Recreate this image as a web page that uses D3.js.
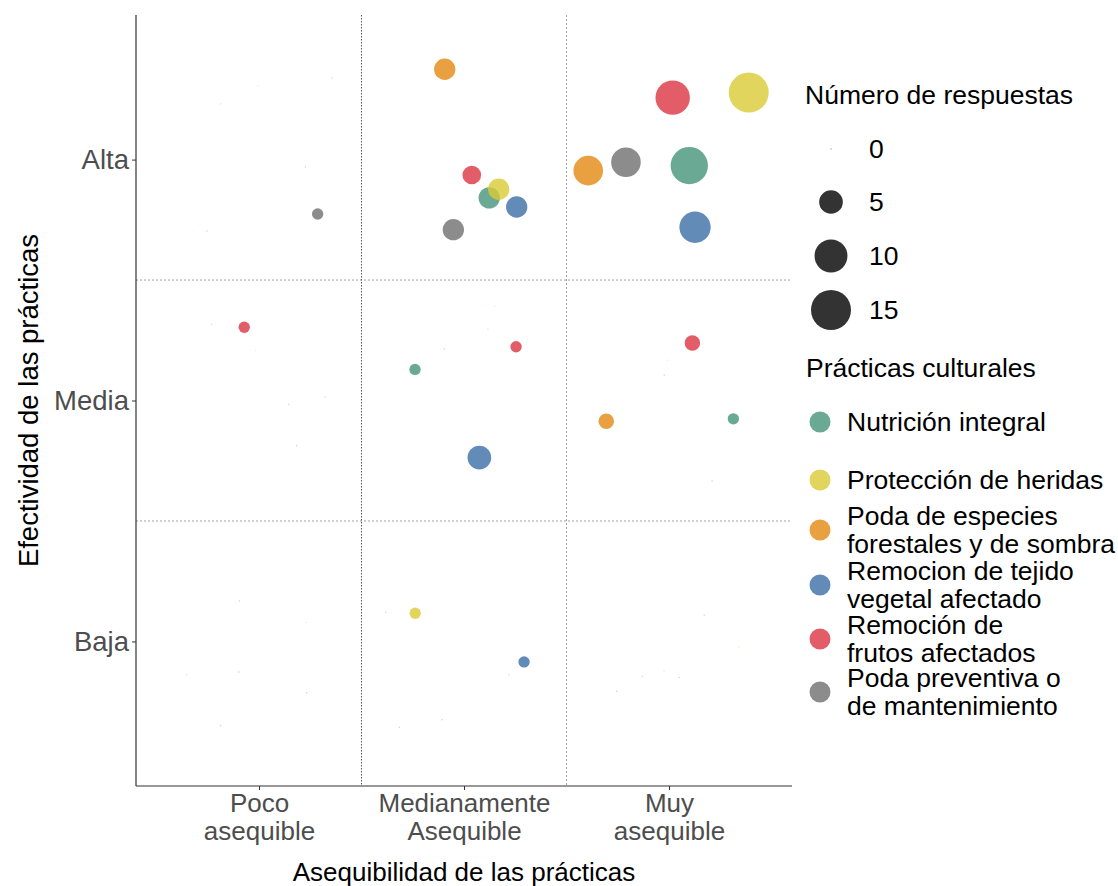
<!DOCTYPE html>
<html>
<head>
<meta charset="utf-8">
<script src="https://cdn.jsdelivr.net/npm/d3@7"></script>
<style>
  html, body { margin: 0; padding: 0; background: #fff; }
  svg { display: block; font-family: "Liberation Sans", Arial, sans-serif; }
</style>
</head>
<body>
<svg id="chart" width="1118" height="886"></svg>
<script>
// ---------- DATA ----------
const practices = [
  "Nutrición integral",
  "Protección de heridas",
  "Poda de especies forestales y de sombra",
  "Remocion de tejido vegetal afectado",
  "Remoción de frutos afectados",
  "Poda preventiva o de mantenimiento"
];
const practiceLegendLines = [
  ["Nutrición integral"],
  ["Protección de heridas"],
  ["Poda de especies", "forestales y de sombra"],
  ["Remocion de tejido", "vegetal afectado"],
  ["Remoción de", "frutos afectados"],
  ["Poda preventiva o", "de mantenimiento"]
];
const practiceColors = ["#459579", "#dbca36", "#e28810", "#3b6ea6", "#dc3442", "#6f6f6f"];
const asequibilidadLabels = [["Poco", "asequible"], ["Medianamente", "Asequible"], ["Muy", "asequible"]];
const efectividadLabels = ["Baja", "Media", "Alta"];
const sizeBreaks = [0, 5, 10, 15];

// [practice index, asequibilidad (1-3), efectividad (1-3), número de respuestas, jitter x, jitter y]
const respuestas = [
  [5,1,3,1,0.286,-0.226],[0,1,3,0,0.355,0.339],[1,1,3,0,-0.005,0.305],[2,1,3,0,-0.187,0.231],[3,1,3,0,0.226,-0.031],[4,1,3,0,-0.254,-0.296],
  [0,2,3,4,0.123,-0.159],[1,2,3,4,0.169,-0.123],[2,2,3,4,-0.094,0.375],[3,2,3,4,0.257,-0.197],[4,2,3,3,0.038,-0.064],[5,2,3,4,-0.052,-0.291],
  [0,3,3,13,0.099,-0.025],[1,3,3,15,0.389,0.278],[2,3,3,8,-0.394,-0.046],[3,3,3,9,0.127,-0.281],[4,3,3,11,0.018,0.257],[5,3,3,8,-0.210,-0.011],
  [4,1,2,1,-0.072,0.304],[0,1,2,0,-0.231,0.316],[1,1,2,0,-0.016,0.208],[2,1,2,0,0.323,0.015],[3,1,2,0,0.145,-0.016],[5,1,2,0,0.184,-0.188],
  [0,2,2,1,-0.239,0.129],[4,2,2,1,0.254,0.223],[3,2,2,5,0.075,-0.237],[1,2,2,0,0.150,0.393],[2,2,2,0,0.117,0.295],[5,2,2,0,-0.096,0.214],
  [4,3,2,2,0.114,0.239],[2,3,2,2,-0.306,-0.086],[0,3,2,1,0.314,-0.076],[1,3,2,0,-0.008,0.167],[3,3,2,0,-0.023,0.106],[5,3,2,0,0.210,-0.334],
  [0,1,1,0,-0.096,0.168],[1,1,1,0,0.231,0.079],[2,1,1,0,-0.353,-0.138],[3,1,1,0,-0.098,-0.127],[4,1,1,0,0.233,-0.213],[5,1,1,0,-0.187,-0.350],
  [1,2,1,1,-0.238,0.117],[3,2,1,1,0.293,-0.085],[0,2,1,0,-0.382,0.121],[2,2,1,0,0.218,-0.138],[4,2,1,0,-0.107,-0.325],[5,2,1,0,-0.316,-0.356],
  [0,3,1,0,0.172,0.110],[1,3,1,0,0.341,-0.023],[2,3,1,0,-0.024,-0.122],[3,3,1,0,-0.130,-0.145],[4,3,1,0,0.050,-0.149],[5,3,1,0,-0.255,-0.207]
];

// ---------- LAYOUT ----------
const svg = d3.select("#chart");
const panel = { left: 136, right: 792, top: 15, bottom: 786 };

const x = d3.scaleLinear().domain([0.4, 3.6]).range([panel.left, panel.right]);
const y = d3.scaleLinear().domain([0.4, 3.6]).range([panel.bottom, panel.top]);
const r = d3.scaleSqrt().domain([0, 15]).range([0.7, 20]);
const color = d3.scaleOrdinal().domain(d3.range(practices.length)).range(practiceColors);
const ALPHA = 0.8;

// divider lines
const vDiv = [1.5, 2.5];
const hDiv = [1.5, 2.5];
svg.append("g").selectAll("line").data(hDiv).join("line")
  .attr("x1", panel.left).attr("x2", panel.right)
  .attr("y1", d => y(d)).attr("y2", d => y(d))
  .attr("stroke", "#a0a0a0").attr("stroke-width", 1).attr("stroke-dasharray", "2,2");
svg.append("g").selectAll("line").data(vDiv).join("line")
  .attr("y1", panel.top).attr("y2", panel.bottom)
  .attr("x1", d => x(d)).attr("x2", d => x(d))
  .attr("stroke", (d, i) => i === 0 ? "#555" : "#a0a0a0")
  .attr("stroke-width", 1).attr("stroke-dasharray", (d, i) => i === 0 ? "1.5,1.5" : "2,2");

// points
const pts = respuestas.map(d => ({ p: d[0], xv: d[1] + d[4], yv: d[2] + d[5], n: d[3] }))
  .sort((a, b) => a.p - b.p);
svg.append("g").selectAll("circle").data(pts).join("circle")
  .attr("cx", d => x(d.xv)).attr("cy", d => y(d.yv))
  .attr("r", d => r(d.n))
  .attr("fill", d => color(d.p))
  .attr("fill-opacity", d => d.n === 0 ? 0.35 : ALPHA);

// axes
const yAxis = d3.axisLeft(y).tickValues([1, 2, 3]).tickSize(4).tickPadding(3)
  .tickFormat(d => efectividadLabels[d - 1]);
const gy = svg.append("g").attr("transform", `translate(${panel.left},0)`).call(yAxis);
gy.select(".domain").attr("d", `M0,${panel.top}V${panel.bottom}`).attr("stroke", "#333").attr("stroke-width", 1.2);
gy.selectAll(".tick line").attr("stroke", "#333");
gy.selectAll(".tick text").attr("fill", "#4d4d4d").style("font-size", "27.5px")
  .style("font-family", "'Liberation Sans', Arial, sans-serif");

const xAxis = d3.axisBottom(x).tickValues([1, 2, 3]).tickSize(4).tickFormat("");
const gx = svg.append("g").attr("transform", `translate(0,${panel.bottom})`).call(xAxis);
gx.select(".domain").attr("d", `M${panel.left},0H${panel.right}`).attr("stroke", "#333").attr("stroke-width", 1.2);
gx.selectAll(".tick line").attr("stroke", "#333");
gx.selectAll(".tick").each(function(d) {
  const t = d3.select(this).append("text")
    .attr("fill", "#4d4d4d").attr("text-anchor", "middle")
    .style("font-size", "26px").style("font-family", "'Liberation Sans', Arial, sans-serif");
  asequibilidadLabels[d - 1].forEach((line, i) => {
    t.append("tspan").attr("x", 0).attr("y", 26 + i * 28).text(line);
  });
});

// axis titles
svg.append("text").attr("x", x(2)).attr("y", 881).attr("text-anchor", "middle")
  .style("font-size", "26px").attr("fill", "#000").text("Asequibilidad de las prácticas");
svg.append("text").attr("transform", `translate(38,${y(2)}) rotate(-90)`).attr("text-anchor", "middle")
  .style("font-size", "27.5px").attr("fill", "#000").text("Efectividad de las prácticas");

// ---------- LEGENDS ----------
const FS = "26.5px";
const lg = svg.append("g");
lg.append("text").attr("x", 805).attr("y", 104).style("font-size", FS).attr("fill", "#000").text("Número de respuestas");
const sizeY = [149, 202, 256, 310];
sizeBreaks.forEach((b, i) => {
  lg.append("circle").attr("cx", 831).attr("cy", sizeY[i]).attr("r", r(b))
    .attr("fill", "#000").attr("fill-opacity", b === 0 ? 0.4 : ALPHA);
  lg.append("text").attr("x", 869).attr("y", sizeY[i] + 9).style("font-size", FS).attr("fill", "#000").text(b);
});

lg.append("text").attr("x", 806).attr("y", 377).style("font-size", FS).attr("fill", "#000").text("Prácticas culturales");
const keyY = [422, 480, 530, 585, 639, 692];
practiceLegendLines.forEach((lines, i) => {
  lg.append("circle").attr("cx", 820).attr("cy", keyY[i]).attr("r", 10.5)
    .attr("fill", color(i)).attr("fill-opacity", ALPHA);
  const t = lg.append("text").style("font-size", FS).attr("fill", "#000");
  const n = lines.length;
  lines.forEach((line, j) => {
    t.append("tspan").attr("x", 847).attr("y", keyY[i] + 9 + (j - (n - 1) / 2) * 28).text(line);
  });
});
</script>
</body>
</html>
